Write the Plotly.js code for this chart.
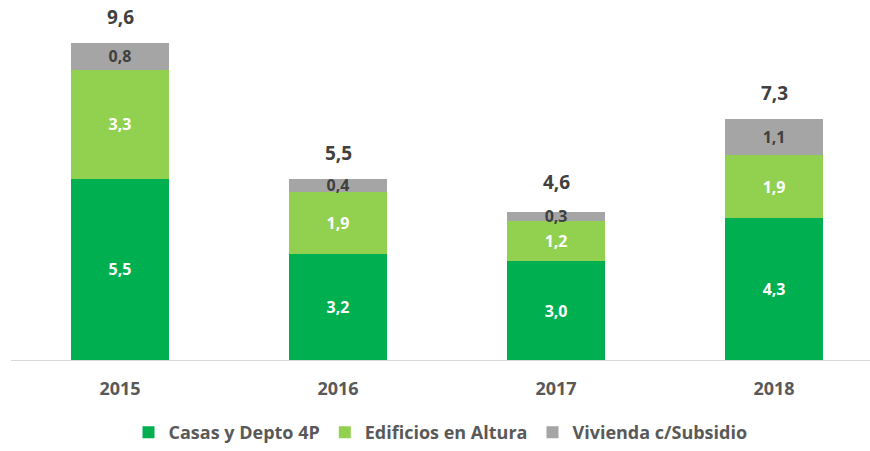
<!DOCTYPE html>
<html><head><meta charset="utf-8">
<script src="https://cdn.plot.ly/plotly-3.0.1.min.js"></script>
<style>html,body{margin:0;padding:0;background:#fff;}#chart{width:870px;height:451px;}</style>
</head><body><div id="chart"></div>
<script>
const years = ['2015','2016','2017','2018'];
const casas = [5.5, 3.2, 3.0, 4.3];
const edificios = [3.3, 1.9, 1.2, 1.9];
const vivienda = [0.8, 0.4, 0.3, 1.1];
const totals = [9.6, 5.5, 4.6, 7.3];
const seriesNames = ['Casas y Depto 4P', 'Edificios en Altura', 'Vivienda c/Subsidio'];

const FONT = '"Open Sans", "Noto Sans", sans-serif';
function fmt(v) { return v.toFixed(1).replace('.', ','); }
function barTrace(name, vals, color, txtColor) {
  return {
    type: 'bar', name: name, x: years, y: vals,
    marker: {color: color},
    width: 0.45,
    text: vals.map(fmt),
    textposition: 'inside', insidetextanchor: 'middle', textangle: 0,
    constraintext: 'none',
    textfont: {family: FONT, size: 16, color: txtColor, weight: 'bold'},
    hoverinfo: 'skip'
  };
}
const data = [
  barTrace(seriesNames[0], casas, '#00B050', '#FFFFFF'),
  barTrace(seriesNames[1], edificios, '#92D050', '#FFFFFF'),
  barTrace(seriesNames[2], vivienda, '#A5A5A5', '#404040')
];
const annotations = years.map((yr, i) => ({
  x: i, y: totals[i], xref: 'x', yref: 'y',
  text: fmt(totals[i]),
  showarrow: false, yanchor: 'bottom', yshift: 11,
  font: {family: FONT, size: 19, color: '#404040', weight: 'bold'}
}));
const layout = {
  width: 870, height: 451,
  margin: {l: 11, r: 0, t: 0, b: 91},
  barmode: 'stack',
  separators: ',.',
  paper_bgcolor: '#fff', plot_bgcolor: '#fff',
  showlegend: true,
  uniformtext: {mode: 'show', minsize: 16},
  xaxis: {
    type: 'category', range: [-0.5, 3.44],
    showline: true, linecolor: '#D9D9D9', linewidth: 1,
    ticks: '', ticklabelstandoff: 12,
    tickfont: {family: FONT, size: 18, color: '#595959', weight: 'bold'},
    showgrid: false, zeroline: false
  },
  yaxis: {
    range: [0, 10.91], visible: false, showgrid: false, zeroline: false
  },
  legend: {
    orientation: 'h', x: 0.5, xanchor: 'center', y: -0.15, yanchor: 'top',
    font: {family: FONT, size: 18, color: '#595959', weight: 'bold'},
    traceorder: 'normal', itemwidth: 30
  },
  annotations: annotations
};
Plotly.newPlot('chart', data, layout, {displayModeBar: false, staticPlot: true});
</script></body></html>
